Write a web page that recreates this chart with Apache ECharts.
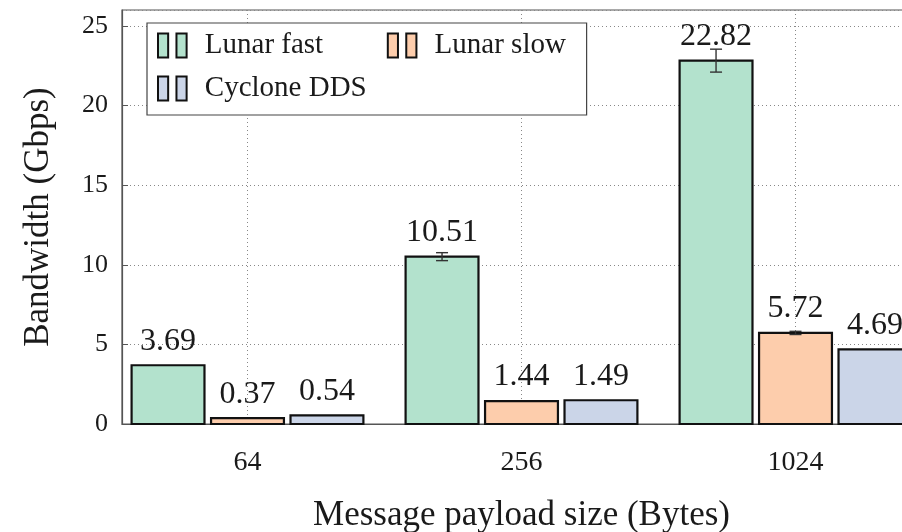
<!DOCTYPE html>
<html>
<head>
<meta charset="utf-8">
<script src="https://cdn.jsdelivr.net/npm/echarts@6/dist/echarts.min.js"></script>
<style>
  html, body { margin: 0; padding: 0; background: #fff; overflow: hidden; }
  #main { width: 902px; height: 532px; }
</style>
</head>
<body>
<div id="main"></div>
<script>
var catNames = ['64', '256', '1024'];
var seriesNames = ['Lunar fast', 'Lunar slow', 'Cyclone DDS'];
var fastValues = [3.69, 10.51, 22.82];
var slowValues = [0.37, 1.44, 5.72];
var ddsValues = [0.54, 1.49, 4.69];
// half-height of error bars (Gbps)
var fastErr = [0, 0.25, 0.72];
var slowErr = [0, 0, 0.1];
var ddsErr = [0, 0, 0];
var yTicks = [0, 5, 10, 15, 20, 25];

var colors = ['#b3e2cd', '#fdcdac', '#cbd5e8'];
var FONT = '"Liberation Serif", "DejaVu Serif", serif';
var BAR_W = 0.266;   // bar width in x units
var BAR_STEP = 0.29; // shift between bars in a group

function makeSeries(idx, values, errs) {
  var shift = (idx - 1) * BAR_STEP;
  return {
    type: 'custom',
    name: seriesNames[idx],
    clip: false,
    itemStyle: { color: colors[idx], borderColor: '#111', borderWidth: 2 },
    data: values.map(function (v, i) { return [i, v, errs[i]]; }),
    renderItem: function (params, api) {
      var x = api.value(0) + shift;
      var v = api.value(1);
      var e = api.value(2);
      var tl = api.coord([x - BAR_W / 2, v]);
      var br = api.coord([x + BAR_W / 2, 0]);
      var cx = (tl[0] + br[0]) / 2;
      var children = [{
        type: 'rect',
        shape: { x: tl[0], y: tl[1], width: br[0] - tl[0], height: br[1] - tl[1] },
        style: { fill: colors[idx], stroke: '#111', lineWidth: 2.2 }
      }];
      if (e > 0) {
        var hi = api.coord([x, v + e]);
        var lo = api.coord([x, v - e]);
        var es = { stroke: '#333', lineWidth: 1.4 };
        children.push({ type: 'line', shape: { x1: cx, y1: hi[1], x2: cx, y2: lo[1] }, style: es });
        children.push({ type: 'line', shape: { x1: cx - 6, y1: hi[1], x2: cx + 6, y2: hi[1] }, style: es });
        children.push({ type: 'line', shape: { x1: cx - 6, y1: lo[1], x2: cx + 6, y2: lo[1] }, style: es });
      }
      children.push({
        type: 'text',
        style: {
          text: v.toFixed(2), x: cx, y: tl[1] - 8,
          align: 'center', verticalAlign: 'bottom',
          fontSize: 32, fontFamily: FONT, fill: '#1a1a1a'
        }
      });
      return { type: 'group', children: children };
    }
  };
}

var chart = echarts.init(document.getElementById('main'));

var option = {
  animation: false,
  backgroundColor: '#fff',
  grid: {
    left: 122, top: 10, bottom: 108, right: -19,
    outerBoundsMode: 'none',
    containLabel: false,
    show: true, borderColor: '#555', borderWidth: 1.2
  },
  legend: {
    left: 147, top: 23,
    width: 460,
    orient: 'horizontal',
    padding: [7, 17, 11, 10],
    itemGap: 12,
    itemWidth: 31, itemHeight: 24,
    icon: 'path://M0,0H11V26H0Z M20,0H31V26H20Z',
    backgroundColor: '#fff',
    borderColor: '#444', borderWidth: 1.2,
    itemStyle: { borderColor: '#111', borderWidth: 2 },
    textStyle: { fontSize: 29, fontFamily: FONT, color: '#1a1a1a', lineHeight: 31, padding: [0, 0, 0, 12] },
    data: [
      { name: seriesNames[0], textStyle: { width: 170 } },
      { name: seriesNames[1], textStyle: { width: 135 } },
      { name: seriesNames[2], textStyle: { width: 170 } }
    ]
  },
  xAxis: {
    type: 'value',
    min: -0.458, max: 2.458,
    minInterval: 1, maxInterval: 1,
    name: 'Message payload size (Bytes)',
    nameLocation: 'middle', nameGap: 74,
    nameTextStyle: { fontSize: 35, fontFamily: FONT, color: '#1a1a1a' },
    axisLine: { show: true, onZero: false, lineStyle: { color: '#555', width: 1.2 } },
    axisTick: { show: false },
    axisLabel: {
      showMinLabel: false, showMaxLabel: false,
      margin: 25, fontSize: 28, fontFamily: FONT, color: '#1a1a1a',
      formatter: function (val) {
        var i = Math.round(val);
        return Math.abs(val - i) < 1e-6 && catNames[i] ? catNames[i] : '';
      }
    },
    splitLine: { show: true, lineStyle: { color: '#888', type: [1, 3], width: 1 } }
  },
  yAxis: {
    type: 'value',
    min: yTicks[0], max: 26, interval: 5,
    name: 'Bandwidth (Gbps)',
    nameLocation: 'middle', nameGap: 66,
    nameTextStyle: { fontSize: 35, fontFamily: FONT, color: '#1a1a1a' },
    axisLine: { show: true, onZero: false, lineStyle: { color: '#555', width: 1.2 } },
    axisTick: { show: true, inside: true, length: 6, lineStyle: { color: '#555' } },
    axisLabel: { showMaxLabel: false, margin: 14, fontSize: 26, fontFamily: FONT, color: '#1a1a1a' },
    splitLine: { show: true, lineStyle: { color: '#888', type: [1, 3], width: 1 } }
  },
  series: [
    makeSeries(0, fastValues, fastErr),
    makeSeries(1, slowValues, slowErr),
    makeSeries(2, ddsValues, ddsErr)
  ]
};

chart.setOption(option);
</script>
</body>
</html>
